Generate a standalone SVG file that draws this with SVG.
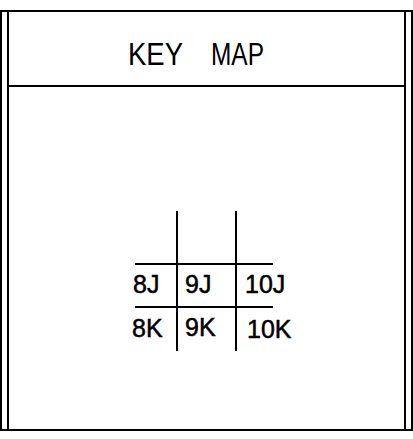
<svg xmlns="http://www.w3.org/2000/svg" width="413" height="439" viewBox="0 0 413 439">
<style>
.ln{stroke:#000;stroke-width:2;fill:none}
.t{font-family:"Liberation Sans",Arial,sans-serif;fill:#000}
.h{font-size:31px}
.g{font-size:25px;stroke:#000;stroke-width:0.5}
</style>
<rect width="413" height="439" fill="#fff"/>
<g id="frame" class="ln">
<line x1="0" y1="11" x2="413" y2="11"/>
<line x1="1" y1="11" x2="1" y2="431"/>
<line x1="8" y1="11" x2="8" y2="431"/>
<line x1="405" y1="11" x2="405" y2="431"/>
<line x1="412" y1="11" x2="412" y2="431"/>
<line x1="0" y1="430" x2="413" y2="430"/>
<line x1="8" y1="86" x2="405" y2="86"/>
</g>
<g id="title">
<text class="t h" x="128" y="65" textLength="55" lengthAdjust="spacingAndGlyphs">KEY</text>
<text class="t h" x="211" y="65" textLength="53" lengthAdjust="spacingAndGlyphs">MAP</text>
</g>
<g id="grid" class="ln">
<line x1="177" y1="211" x2="177" y2="351"/>
<line x1="236" y1="211" x2="236" y2="351"/>
<line x1="135" y1="264" x2="273" y2="264"/>
<line x1="135" y1="307" x2="273" y2="307"/>
</g>
<g id="c8J"><text class="t g" x="133" y="293">8J</text></g>
<g id="c9J"><text class="t g" x="185" y="293">9J</text></g>
<g id="c10J"><text class="t g" x="245" y="293">10J</text></g>
<g id="c8K"><text class="t g" x="132" y="337">8K</text></g>
<g id="c9K"><text class="t g" x="185" y="336">9K</text></g>
<g id="c10K"><text class="t g" x="247" y="338">10K</text></g>
</svg>
